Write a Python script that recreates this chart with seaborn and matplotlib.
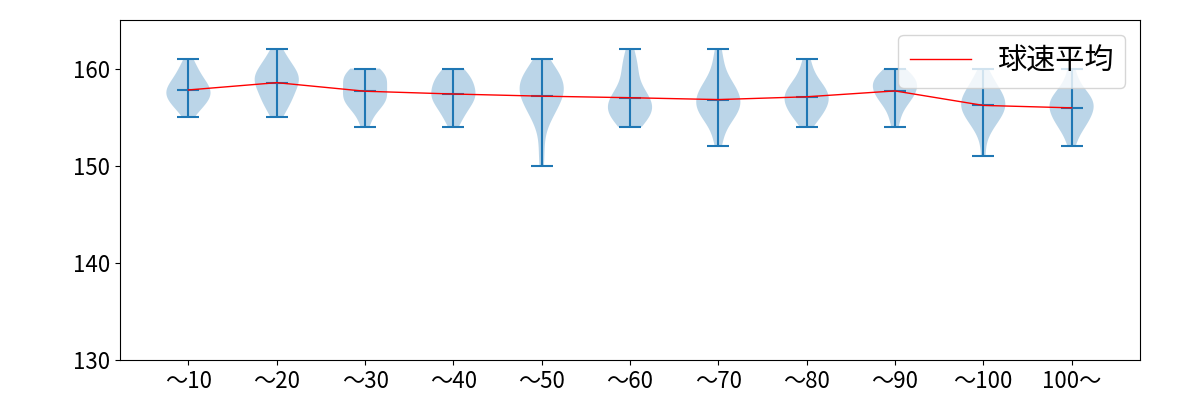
import numpy as np
import matplotlib
matplotlib.use("Agg")
import matplotlib.pyplot as plt
import seaborn as sns

plt.rcParams['font.family'] = ['Noto Sans CJK JP', 'DejaVu Sans']

categories = ["〜10", "〜20", "〜30", "〜40", "〜50", "〜60", "〜70", "〜80", "〜90", "〜100", "100〜"]

# pitch speed (km/h) : count, per pitch-count bin
speeds_10 = {155: 1, 156: 3, 157: 5, 158: 5, 159: 3, 160: 2, 161: 1}
speeds_20 = {155: 1, 156: 2, 157: 3, 158: 3, 159: 5, 160: 3, 161: 2, 162: 1}
speeds_30 = {154: 1, 155: 1, 156: 3, 157: 5, 158: 3, 159: 5, 160: 3}
speeds_40 = {154: 1, 155: 2, 156: 3, 157: 5, 158: 4, 159: 4, 160: 2}
speeds_50 = {150: 1, 152: 1, 154: 1, 155: 2, 156: 3, 157: 4, 158: 5, 159: 4, 160: 3, 161: 1}
speeds_60 = {154: 2, 155: 4, 156: 5, 157: 4, 158: 2, 159: 1, 160: 2, 161: 1, 162: 1}
speeds_70 = {152: 1, 153: 1, 154: 1, 155: 4, 156: 5, 157: 5, 158: 4, 159: 2, 160: 1, 161: 1, 162: 1}
speeds_80 = {154: 1, 155: 3, 156: 4, 157: 5, 158: 4, 159: 2, 160: 1, 161: 1}
speeds_90 = {154: 1, 155: 1, 156: 2, 157: 4, 158: 5, 159: 5, 160: 2}
speeds_100 = {151: 1, 153: 1, 154: 2, 155: 4, 156: 5, 157: 5, 158: 3, 159: 2, 160: 1}
speeds_over = {152: 1, 153: 1, 154: 3, 155: 4, 156: 5, 157: 5, 158: 2, 159: 1, 160: 1}

tables = [speeds_10, speeds_20, speeds_30, speeds_40, speeds_50, speeds_60,
          speeds_70, speeds_80, speeds_90, speeds_100, speeds_over]
data = [np.repeat(list(t.keys()), list(t.values())).astype(float) for t in tables]
means = [d.mean() for d in data]
positions = np.arange(1, len(categories) + 1)

fig, ax = plt.subplots(figsize=(12, 4), dpi=100)
fig.subplots_adjust(left=0.1, right=0.95, top=0.95, bottom=0.1)

ax.violinplot(data, positions=positions, showmeans=True)
sns.lineplot(x=positions, y=means, color="red", linewidth=1, label="球速平均", ax=ax)

ax.set_xticks(positions)
ax.set_xticklabels(categories, fontsize=16)
ax.tick_params(axis='y', labelsize=16)
ax.set_ylim(130, 165)
ax.set_yticks([130, 140, 150, 160])
ax.legend(loc="upper right", fontsize=21, handlelength=2.1, handletextpad=0.9)

fig.savefig("out.png", dpi=100)
